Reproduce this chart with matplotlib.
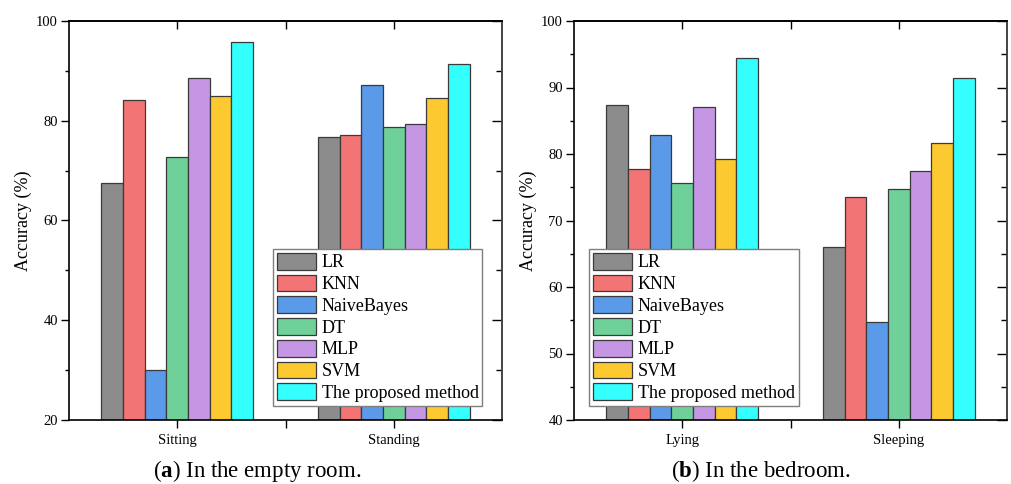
import matplotlib
matplotlib.use("Agg")
import matplotlib.pyplot as plt
import numpy as np
from matplotlib.ticker import MultipleLocator, FixedLocator

plt.rcParams['font.family'] = ['Liberation Serif', 'DejaVu Serif']
plt.rcParams['mathtext.fontset'] = 'custom'
plt.rcParams['mathtext.rm'] = 'Liberation Serif'
plt.rcParams['mathtext.bf'] = 'Liberation Serif:bold'

methods = ["LR", "KNN", "NaiveBayes", "DT", "MLP", "SVM", "The proposed method"]
colors = ["#8c8c8c", "#f37474", "#5b9ae8", "#6fd09a", "#c596e4", "#fdc930", "#33ffff"]

cats_a = ["Sitting", "Standing"]
vals_a = {
    "LR": [67.5, 76.8],
    "KNN": [84.2, 77.1],
    "NaiveBayes": [30.1, 87.2],
    "DT": [72.7, 78.7],
    "MLP": [88.5, 79.3],
    "SVM": [85.0, 84.6],
    "The proposed method": [95.7, 91.3],
}

cats_b = ["Lying", "Sleeping"]
vals_b = {
    "LR": [87.4, 66.0],
    "KNN": [77.8, 73.6],
    "NaiveBayes": [82.9, 54.7],
    "DT": [75.6, 74.8],
    "MLP": [87.0, 77.5],
    "SVM": [79.3, 81.6],
    "The proposed method": [94.5, 91.5],
}

captions = [("a", " In the empty room."), ("b", " In the bedroom.")]

W, H = 1011, 484
fig = plt.figure(figsize=(W / 100, H / 100), dpi=100)

def ax_rect(x0, x1, ytop, ybot):
    return [x0 / W, 1 - ybot / H, (x1 - x0) / W, (ybot - ytop) / H]

ax1 = fig.add_axes(ax_rect(69, 502, 21, 420))
ax2 = fig.add_axes(ax_rect(574, 1007, 21, 420))

def draw(ax, cats, vals, ylim, major, minor, legend_x):
    x = np.arange(len(cats))
    bw = 0.1
    n = len(methods)
    handles = []
    for i, (m, c) in enumerate(zip(methods, colors)):
        off = (i - (n - 1) / 2) * bw
        b = ax.bar(x + off, vals[m], bw, bottom=0, color=c, edgecolor="#3a3a3a",
                   linewidth=0.9, label=m, zorder=2)
        handles.append(b)
    ax.set_xlim(-0.5, 1.5)
    ax.set_ylim(*ylim)
    ax.set_xticks(x)
    ax.set_xticklabels(cats, fontsize=10.5)
    ax.xaxis.set_minor_locator(FixedLocator([0.5]))
    ax.yaxis.set_major_locator(MultipleLocator(major))
    ax.yaxis.set_minor_locator(MultipleLocator(minor))
    ax.tick_params(axis='y', which='major', direction='out', length=6, width=1.0, labelsize=10.5, pad=2)
    ax.tick_params(axis='y', which='minor', direction='out', length=3, width=1.0)
    ax.tick_params(axis='x', which='major', direction='out', length=6, width=1.0, pad=4)
    ax.tick_params(axis='x', which='minor', direction='out', length=6, width=1.0)
    axr = ax.secondary_yaxis('right')
    axr.yaxis.set_major_locator(MultipleLocator(major))
    axr.yaxis.set_minor_locator(MultipleLocator(minor))
    axr.tick_params(which='major', direction='in', length=7, width=1.0, labelright=False)
    axr.tick_params(which='minor', direction='in', length=4, width=1.0)
    axr.spines['right'].set_linewidth(1.2)
    axr.spines['right'].set_color('#444444')
    axt = ax.secondary_xaxis('top')
    axt.set_xticks(x)
    axt.xaxis.set_minor_locator(FixedLocator([0.5]))
    axt.tick_params(which='both', direction='in', length=6, width=1.0, labeltop=False)
    axt.spines['top'].set_linewidth(1.2)
    for s in ax.spines.values():
        s.set_linewidth(1.2)
    ax.spines['right'].set_color('#444444')
    ax.set_ylabel("Accuracy (%)", fontsize=13)
    ax.yaxis.set_label_coords(-0.086, 0.5)
    leg = ax.legend(handles=handles, loc='lower left', bbox_to_anchor=(legend_x, 0.036),
                    borderaxespad=0, fontsize=13, frameon=True, fancybox=False,
                    edgecolor='#7f7f7f', framealpha=1, handlelength=2.2, handleheight=1.05,
                    handletextpad=0.3, labelspacing=0.18, borderpad=0.2)
    leg.get_frame().set_linewidth(1.0)
    leg.set_zorder(5)

draw(ax1, cats_a, vals_a, (20, 100), 20, 10, 0.471)
draw(ax2, cats_b, vals_b, (40, 100), 10, 5, 0.035)

for (lbl, rest), xc in zip(captions, [257, 761]):
    fig.text(xc / W, 1 - 471 / H, r"($\mathbf{" + lbl + r"}$)" + rest, ha='center', va='center',
             fontsize=16.5)

fig.savefig("out.png", dpi=100)
